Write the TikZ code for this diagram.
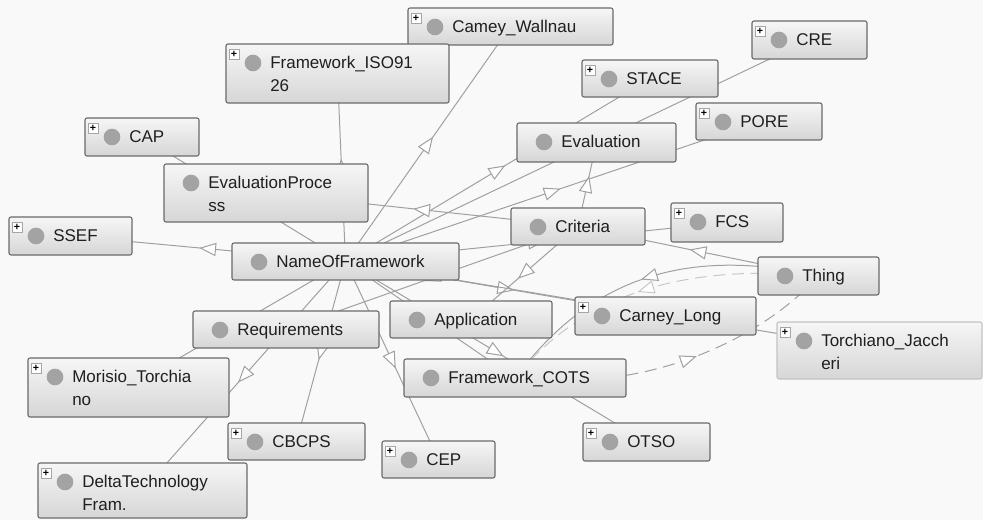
\documentclass[tikz,border=0pt]{standalone}
\usepackage{fontspec}
\setmainfont{Liberation Sans}
\usetikzlibrary{fit,backgrounds,decorations.markings}
\definecolor{bgc}{HTML}{F9F9F9}
\definecolor{edgec}{HTML}{A0A0A0}
\definecolor{edgel}{HTML}{C8C8C8}
\definecolor{boxtop}{HTML}{F6F6F6}
\definecolor{boxbot}{HTML}{D6D6D6}
\definecolor{boxline}{HTML}{6A6A6A}
\definecolor{dotc}{HTML}{A3A3A3}
% name, x1, y1, x2, y2, plus(0/1), line1, line2, extra box style
\newcommand{\obx}[9]{%
  \node[obox,#9,fit={(#2,#3) (#4,#5)}] (#1) {};
  \node[odot] (#1-d) at (#2+27,#3+19) {};
  \node[otext] (#1-t) at (#2+44,#3+25) {#7};
  \if\relax\detokenize{#8}\relax\else\node[otext] (#1-u) at (#2+44,#3+48) {#8};\fi
  \ifnum#6=1 \node[oplus] (#1-p) at (#2+8,#3+10) {+};\fi
}
\begin{document}
\begin{tikzpicture}[x=0.75pt,y=-0.75pt,
  obox/.style={draw=boxline,line width=0.8pt,rounded corners=1.5pt,top color=boxtop,bottom color=boxbot,inner sep=0pt},
  odot/.style={circle,fill=dotc,minimum size=12.5pt,inner sep=0pt},
  otext/.style={anchor=base west,inner sep=0pt,font=\fontsize{12.75}{15}\selectfont,text=black!88},
  oplus/.style={draw=gray!70,fill=white,minimum size=7.5pt,inner sep=0pt,font=\fontsize{8}{8}\selectfont\bfseries},
  edge/.style={draw=edgec,line width=0.75pt},
  midtri/.style={postaction={decorate},decoration={markings,mark=at position #1 with {\draw[solid,fill=white,line join=miter] (-5.6pt,-4.5pt) -- (5.6pt,0pt) -- (-5.6pt,4.5pt) -- cycle;}}},
  midtri/.default=0.5]
\useasboundingbox (0,0) rectangle (983,520);

\obx{camey}{408}{8}{613}{45}{1}{Camey\_Wallnau}{}{}
\obx{iso}{226}{44}{449}{103}{1}{Framework\_ISO91}{26}{}
\obx{cre}{752}{21}{867}{59}{1}{CRE}{}{}
\obx{stace}{582}{60}{718}{97}{1}{STACE}{}{}
\obx{pore}{696}{103}{822}{140}{1}{PORE}{}{}
\obx{eval}{517}{123}{676}{162}{0}{Evaluation}{}{}
\obx{cap}{85}{118}{199}{156}{1}{CAP}{}{}
\obx{evp}{164}{164}{368}{222}{0}{EvaluationProce}{ss}{}
\obx{ssef}{9}{217}{132}{255}{1}{SSEF}{}{}
\obx{nof}{232}{243}{459}{280}{0}{NameOfFramework}{}{}
\obx{crit}{511}{208}{645}{245}{0}{Criteria}{}{}
\obx{fcs}{671}{203}{783}{242}{1}{FCS}{}{}
\obx{thing}{758}{257}{879}{295}{0}{Thing}{}{}
\obx{carney}{575}{297}{756}{335}{1}{Carney\_Long}{}{}
\obx{torch}{777}{322}{982}{379}{1}{Torchiano\_Jacch}{eri}{draw=boxline!40}
\obx{app}{390}{301}{552}{338}{0}{Application}{}{}
\obx{req}{193}{311}{379}{348}{0}{Requirements}{}{}
\obx{mor}{28}{358}{229}{417}{1}{Morisio\_Torchia}{no}{}
\obx{fcots}{404}{359}{626}{397}{0}{Framework\_COTS}{}{}
\obx{cbcps}{228}{423}{365}{460}{1}{CBCPS}{}{}
\obx{cep}{382}{441}{495}{478}{1}{CEP}{}{}
\obx{otso}{583}{423}{710}{461}{1}{OTSO}{}{}
\obx{delta}{38}{463}{247}{518}{1}{DeltaTechnology}{Fram.}{}

\begin{pgfonlayer}{background}
\fill[bgc] (0,0) rectangle (983,520);
\foreach \c in {ssef,cap,iso,camey,stace,cre,pore,fcs,carney,torch,otso,cep,cbcps,delta,mor}
  \draw[edge,midtri] (nof.center) -- (\c.center);
\draw[edge,midtri] (fcots.center) -- (nof.center);
\draw[edge,midtri] (crit.center) -- (eval.center);
\draw[edge,midtri] (crit.center) -- (evp.center);
\draw[edge,midtri] (crit.center) -- (app.center);
\draw[edge,midtri] (crit.center) -- (req.center);
\draw[edge,midtri] (thing.center) -- (crit.center);
\draw[edge,midtri=0.5] (thing.center) .. controls (640,235) and (560,320) .. (fcots.center);
\draw[edge,dash pattern=on 9pt off 5pt,midtri=0.53] (fcots.center) .. controls (660,395) and (770,330) .. (thing.center);
\draw[edge,draw=edgel,dash pattern=on 9pt off 5pt,midtri=0.52] (thing.center) .. controls (700,265) and (590,285) .. (fcots.center);
\end{pgfonlayer}
\end{tikzpicture}
\end{document}
